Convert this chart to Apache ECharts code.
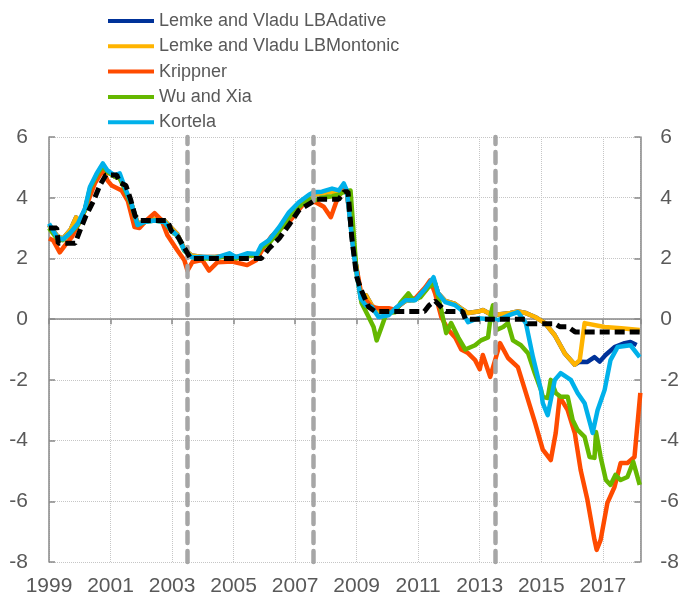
<!DOCTYPE html>
<html>
<head>
<meta charset="utf-8">
<script src="https://cdn.jsdelivr.net/npm/echarts@6/dist/echarts.min.js"></script>
<style>
  html, body { margin: 0; padding: 0; background: #fff; }
  #chart { width: 682px; height: 598px; }
</style>
</head>
<body>
<div id="chart"></div>
<script>
// x values are decimal years, y values are percent
var startYear = 1999;
var endYear = 2018.22;
var yTicks = [-8, -6, -4, -2, 0, 2, 4, 6];
var eventDates = [2003.48, 2007.58, 2013.49];

var seriesNames = [
  "Lemke and Vladu LBAdative",
  "Lemke and Vladu LBMontonic",
  "Krippner",
  "Wu and Xia",
  "Kortela"
];

var lbMontonic = [
  [1999.0, 3.1], [1999.26, 2.75], [1999.45, 2.65], [1999.7, 2.95], [1999.88, 3.35], [2000.0, 3.2],
  [2000.17, 3.6], [2000.33, 4.25], [2000.55, 4.75], [2000.75, 5.05], [2000.9, 4.85], [2001.13, 4.7],
  [2001.3, 4.65], [2001.46, 4.3], [2001.68, 3.8], [2001.88, 3.15], [2002.1, 3.2], [2002.43, 3.3],
  [2002.75, 3.25], [2002.98, 3.0], [2003.17, 2.8], [2003.4, 2.3], [2003.63, 2.1], [2004.0, 2.05],
  [2004.4, 2.05], [2004.86, 2.1], [2005.08, 2.05], [2005.44, 2.1], [2005.76, 2.1], [2005.9, 2.35],
  [2006.15, 2.55], [2006.48, 2.95], [2006.8, 3.45], [2007.12, 3.8], [2007.45, 4.05], [2007.6, 4.1],
  [2007.87, 4.15], [2008.2, 4.2], [2008.42, 4.2], [2008.58, 4.35], [2008.68, 4.2], [2008.9, 2.3],
  [2009.13, 0.75], [2009.3, 0.79], [2009.49, 0.45], [2009.71, 0.25], [2010.04, 0.2], [2010.26, 0.35],
  [2010.59, 0.6], [2010.9, 0.65], [2011.23, 0.95], [2011.5, 1.3], [2011.65, 0.85], [2011.88, 0.6],
  [2012.2, 0.5], [2012.4, 0.35], [2012.62, 0.2], [2012.95, 0.25], [2013.1, 0.3], [2013.37, 0.15],
  [2013.6, 0.15], [2014.0, 0.2], [2014.24, 0.25], [2014.5, 0.2], [2014.8, 0.07], [2015.12, -0.13],
  [2015.44, -0.53], [2015.76, -1.12], [2016.09, -1.5], [2016.25, -1.35], [2016.41, -0.13],
  [2017.06, -0.26], [2017.6, -0.3], [2018.2, -0.36]
];

var lbAdaptive = [
  [1999.0, 3.1], [1999.26, 2.75], [1999.45, 2.65], [1999.7, 2.95], [1999.88, 3.35], [2000.0, 3.2],
  [2000.17, 3.6], [2000.33, 4.25], [2000.55, 4.75], [2000.75, 5.05], [2000.9, 4.85], [2001.13, 4.7],
  [2001.3, 4.65], [2001.46, 4.3], [2001.68, 3.8], [2001.88, 3.15], [2002.1, 3.2], [2002.43, 3.3],
  [2002.75, 3.25], [2002.98, 3.0], [2003.17, 2.8], [2003.4, 2.3], [2003.63, 2.1], [2004.0, 2.05],
  [2004.4, 2.05], [2004.86, 2.1], [2005.08, 2.05], [2005.44, 2.1], [2005.76, 2.1], [2005.9, 2.35],
  [2006.15, 2.55], [2006.48, 2.95], [2006.8, 3.45], [2007.12, 3.8], [2007.45, 4.05], [2007.6, 4.1],
  [2007.87, 4.15], [2008.2, 4.2], [2008.42, 4.2], [2008.58, 4.35], [2008.68, 4.2], [2008.9, 2.3],
  [2009.13, 0.75], [2009.3, 0.79], [2009.49, 0.45], [2009.71, 0.25], [2010.04, 0.2], [2010.26, 0.35],
  [2010.59, 0.6], [2010.9, 0.65], [2011.23, 0.95], [2011.5, 1.3], [2011.65, 0.85], [2011.88, 0.6],
  [2012.2, 0.5], [2012.4, 0.35], [2012.62, 0.2], [2012.95, 0.25], [2013.1, 0.3], [2013.37, 0.15],
  [2013.6, 0.15], [2014.0, 0.2], [2014.24, 0.25], [2014.5, 0.2], [2014.8, 0.07], [2015.12, -0.13],
  [2015.44, -0.53], [2015.76, -1.12], [2016.09, -1.5], [2016.25, -1.4], [2016.5, -1.41],
  [2016.73, -1.25], [2016.9, -1.4], [2017.09, -1.18], [2017.38, -0.92], [2017.71, -0.79],
  [2017.9, -0.75], [2018.1, -0.85]
];

var krippner = [
  [1999.0, 2.66], [1999.13, 2.6], [1999.35, 2.2], [1999.52, 2.43], [1999.74, 2.7], [2000.07, 3.36],
  [2000.26, 3.85], [2000.49, 4.47], [2000.75, 4.9], [2000.9, 4.57], [2001.04, 4.4], [2001.36, 4.24],
  [2001.56, 3.9], [2001.78, 3.03], [2001.94, 3.0], [2002.17, 3.26], [2002.43, 3.49], [2002.66, 3.26],
  [2002.85, 2.76], [2003.17, 2.27], [2003.4, 1.94], [2003.5, 1.6], [2003.66, 1.88], [2003.98, 1.95],
  [2004.2, 1.6], [2004.47, 1.87], [2004.95, 1.9], [2005.44, 1.78], [2005.73, 1.94], [2006.0, 2.4],
  [2006.25, 2.75], [2006.8, 3.2], [2007.35, 3.9], [2007.67, 3.85], [2007.93, 3.7], [2008.16, 3.36],
  [2008.35, 3.9], [2008.58, 4.35], [2008.7, 4.2], [2008.92, 2.1], [2009.16, 0.79], [2009.49, 0.4],
  [2009.71, 0.36], [2010.04, 0.36], [2010.26, 0.3], [2010.59, 0.68], [2010.9, 0.68], [2011.23, 1.05],
  [2011.39, 1.28], [2011.55, 0.85], [2011.75, 0.07], [2011.98, -0.36], [2012.2, -0.6], [2012.4, -1.0],
  [2012.62, -1.12], [2012.85, -1.35], [2013.0, -1.65], [2013.1, -1.18], [2013.34, -1.9], [2013.5, -1.35],
  [2013.66, -0.79], [2013.92, -1.28], [2014.24, -1.58], [2014.47, -2.33], [2014.8, -3.42], [2015.05, -4.3],
  [2015.31, -4.64], [2015.47, -3.75], [2015.6, -2.56], [2015.86, -3.0], [2016.09, -3.75], [2016.28, -4.97],
  [2016.5, -5.95], [2016.73, -7.27], [2016.8, -7.6], [2016.93, -7.27], [2017.15, -6.05], [2017.38, -5.53],
  [2017.58, -4.74], [2017.8, -4.74], [2018.03, -4.54], [2018.22, -2.43]
];

var wuXia = [
  [1999.0, 3.0], [1999.26, 2.65], [1999.45, 2.6], [1999.7, 2.85], [1999.94, 3.1], [2000.17, 3.6],
  [2000.33, 4.3], [2000.55, 4.75], [2000.75, 5.05], [2000.9, 4.85], [2001.13, 4.7], [2001.3, 4.65],
  [2001.46, 4.3], [2001.68, 3.75], [2001.88, 3.1], [2002.1, 3.2], [2002.43, 3.25], [2002.75, 3.2],
  [2002.98, 2.9], [2003.17, 2.75], [2003.4, 2.25], [2003.63, 2.05], [2004.0, 2.0], [2004.4, 2.0],
  [2004.86, 2.1], [2005.08, 2.0], [2005.44, 2.1], [2005.76, 2.1], [2005.9, 2.35], [2006.15, 2.5],
  [2006.48, 2.9], [2006.8, 3.35], [2007.12, 3.7], [2007.45, 3.95], [2007.6, 3.9], [2007.87, 4.0],
  [2008.2, 4.05], [2008.42, 4.1], [2008.6, 4.2], [2008.8, 4.24], [2009.0, 1.5], [2009.16, 0.53],
  [2009.39, 0.07], [2009.55, -0.26], [2009.65, -0.7], [2009.81, -0.26], [2009.97, 0.2], [2010.26, 0.23],
  [2010.42, 0.53], [2010.68, 0.85], [2010.84, 0.62], [2011.07, 0.72], [2011.33, 1.05], [2011.55, 1.18],
  [2011.75, 0.3], [2011.91, -0.46], [2012.07, -0.13], [2012.3, -0.6], [2012.53, -1.0], [2012.85, -0.86],
  [2013.04, -0.7], [2013.27, -0.6], [2013.37, 0.2], [2013.43, 0.46], [2013.53, -0.36], [2013.76, -0.26],
  [2013.92, -0.13], [2014.08, -0.7], [2014.34, -0.86], [2014.57, -1.12], [2014.79, -1.78], [2014.99, -2.33],
  [2015.05, -2.56], [2015.21, -2.6], [2015.31, -2.0], [2015.47, -2.43], [2015.63, -2.56], [2015.86, -2.56],
  [2016.02, -3.32], [2016.18, -3.65], [2016.41, -3.88], [2016.57, -4.54], [2016.73, -4.57], [2016.78, -3.72],
  [2016.93, -4.54], [2017.1, -5.3], [2017.25, -5.46], [2017.41, -5.13], [2017.58, -5.3], [2017.8, -5.2],
  [2017.99, -4.7], [2018.2, -5.46]
];

var kortela = [
  [1999.0, 3.15], [1999.26, 2.7], [1999.45, 2.63], [1999.68, 2.83], [1999.94, 3.15], [2000.17, 3.65],
  [2000.33, 4.35], [2000.55, 4.8], [2000.75, 5.13], [2000.9, 4.9], [2001.13, 4.74], [2001.3, 4.8],
  [2001.46, 4.35], [2001.68, 3.8], [2001.88, 3.1], [2002.1, 3.2], [2002.43, 3.25], [2002.75, 3.2],
  [2002.98, 2.93], [2003.17, 2.76], [2003.4, 2.27], [2003.63, 2.04], [2004.0, 2.05], [2004.4, 2.02],
  [2004.86, 2.17], [2005.08, 2.04], [2005.44, 2.17], [2005.76, 2.15], [2005.9, 2.43], [2006.15, 2.6],
  [2006.48, 3.03], [2006.8, 3.52], [2007.12, 3.85], [2007.45, 4.1], [2007.6, 4.18], [2007.87, 4.2],
  [2008.2, 4.3], [2008.42, 4.24], [2008.58, 4.47], [2008.68, 4.24], [2008.9, 2.17], [2009.13, 0.68],
  [2009.3, 0.45], [2009.49, 0.4], [2009.71, 0.07], [2010.04, 0.13], [2010.26, 0.36], [2010.59, 0.62],
  [2010.9, 0.62], [2011.23, 1.0], [2011.5, 1.38], [2011.65, 0.85], [2011.88, 0.56], [2012.2, 0.46],
  [2012.4, 0.3], [2012.62, -0.1], [2012.95, 0.03], [2013.37, 0.0], [2013.6, -0.03], [2014.0, 0.15],
  [2014.24, 0.23], [2014.5, -0.13], [2014.73, -1.25], [2014.99, -2.33], [2015.05, -2.77], [2015.21, -3.16],
  [2015.44, -2.0], [2015.63, -1.78], [2015.96, -2.0], [2016.18, -2.43], [2016.41, -2.77], [2016.67, -3.75],
  [2016.83, -3.0], [2017.06, -2.33], [2017.25, -1.35], [2017.48, -0.92], [2017.9, -0.86], [2018.2, -1.25]
];

var policyRate = [
  [1999.0, 3.0], [1999.25, 3.0], [1999.3, 2.5], [1999.85, 2.5], [2000.0, 2.9], [2000.2, 3.4],
  [2000.45, 3.9], [2000.65, 4.4], [2000.85, 4.75], [2001.2, 4.75], [2001.3, 4.5], [2001.5, 4.4],
  [2001.65, 3.95], [2001.8, 3.4], [2001.95, 3.25], [2002.85, 3.25], [2002.98, 2.9], [2003.2, 2.7],
  [2003.4, 2.35], [2003.6, 2.0], [2005.9, 2.0], [2006.15, 2.33], [2006.48, 2.66], [2006.8, 3.1],
  [2007.12, 3.58], [2007.54, 3.85], [2007.7, 3.95], [2008.42, 3.95], [2008.6, 4.2], [2008.72, 4.2],
  [2008.84, 2.7], [2009.0, 1.4], [2009.13, 1.0], [2009.39, 0.4], [2009.6, 0.25], [2011.2, 0.25],
  [2011.35, 0.45], [2011.55, 0.6], [2011.75, 0.4], [2011.9, 0.25], [2012.45, 0.25], [2012.53, 0.0],
  [2014.47, 0.0], [2014.55, -0.15], [2015.44, -0.15], [2015.6, -0.25], [2015.86, -0.25],
  [2016.1, -0.42], [2018.2, -0.42]
];

var colors = ["#003299", "#FFB400", "#FF4B00", "#65B800", "#00B1EA"];
var seriesData = [lbAdaptive, lbMontonic, krippner, wuXia, kortela];

function shift(arr) {
  return arr.map(function (p) { return [p[0] - startYear, p[1]]; });
}

var textColor = "#595959";
var axisColor = "#898989";
var gridColor = "#C6C6C6";
var fontFamily = "'Liberation Sans', Arial, sans-serif";

var series = [];
for (var i = 0; i < seriesNames.length; i++) {
  series.push({
    name: seriesNames[i],
    type: "line",
    data: shift(seriesData[i]),
    symbol: "none",
    color: colors[i],
    lineStyle: { width: 4.5, color: colors[i], join: "round" },
    z: 2 + i * 0.1
  });
}
// grey vertical markers
series.push({
  name: "events",
  type: "line",
  data: [],
  symbol: "none",
  markLine: {
    silent: true,
    symbol: ["none", "none"],
    label: { show: false },
    lineStyle: { color: "#A6A6A6", width: 4.5, type: [11, 8], cap: "round" },
    data: eventDates.map(function (d) { return { xAxis: d - startYear }; })
  }
});
series.push({
  name: "policy",
  type: "line",
  data: shift(policyRate),
  symbol: "none",
  z: 6,
  lineStyle: { width: 5, color: "#000000", type: [10, 5] }
});

var myChart = echarts.init(document.getElementById("chart"), null, { renderer: "canvas" });
var option = {
  animation: false,
  backgroundColor: "#ffffff",
  textStyle: { fontFamily: fontFamily },
  legend: {
    data: seriesNames,
    orient: "vertical",
    left: 108,
    top: 11,
    padding: 0,
    icon: "rect",
    itemWidth: 46,
    itemHeight: 4,
    itemGap: 5.3,
    textStyle: { fontSize: 18, color: textColor, lineHeight: 20, fontFamily: fontFamily }
  },
  grid: { left: 49, right: 39, top: 137, bottom: 36 },
  xAxis: [
    {
      type: "value",
      min: 0,
      max: endYear - startYear,
      interval: 2,
      position: "bottom",
      axisLine: { show: false, onZero: false },
      axisTick: { show: false },
      axisLabel: {
        fontSize: 21,
        color: textColor,
        margin: 14,
        showMaxLabel: false,
        formatter: function (v) { return String(startYear + v); }
      },
      splitLine: { show: true, lineStyle: { type: "dotted", color: gridColor, width: 1 } }
    },
    {
      type: "value",
      min: 0,
      max: endYear - startYear,
      interval: 2,
      position: "bottom",
      axisLine: { show: true, onZero: true, onZeroAxisIndex: 0, lineStyle: { color: axisColor, width: 1.5 } },
      axisTick: { show: true, length: 5, lineStyle: { color: axisColor, width: 1.5 } },
      axisLabel: { show: false },
      splitLine: { show: false }
    }
  ],
  yAxis: [
    {
      type: "value",
      min: yTicks[0],
      max: yTicks[yTicks.length - 1],
      interval: 2,
      position: "left",
      axisLine: { show: true, onZero: false, lineStyle: { color: axisColor, width: 1.5 } },
      axisTick: { show: true, inside: true, length: 6, lineStyle: { color: axisColor, width: 1.5 } },
      axisLabel: { fontSize: 21, color: textColor, margin: 21 },
      splitLine: { show: true, lineStyle: { type: "dotted", color: gridColor, width: 1 } }
    },
    {
      type: "value",
      min: yTicks[0],
      max: yTicks[yTicks.length - 1],
      interval: 2,
      position: "right",
      axisLine: { show: true, onZero: false, lineStyle: { color: axisColor, width: 1.5 } },
      axisTick: { show: true, inside: true, length: 6, lineStyle: { color: axisColor, width: 1.5 } },
      axisLabel: { fontSize: 21, color: textColor, margin: 20 },
      splitLine: { show: false }
    }
  ],
  series: series
};
myChart.setOption(option);
</script>
</body>
</html>
